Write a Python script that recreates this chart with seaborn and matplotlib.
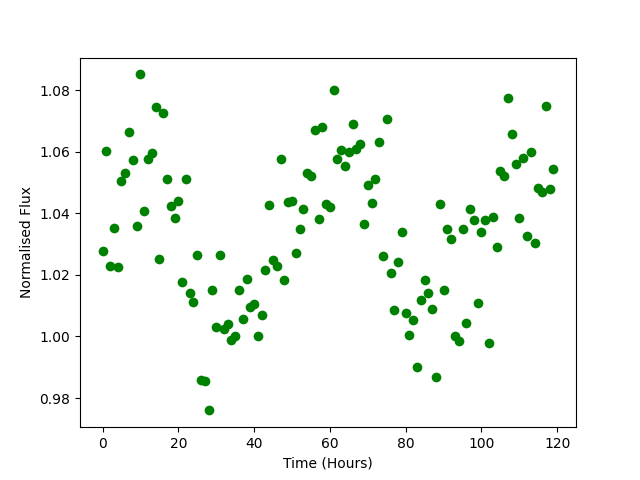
import matplotlib
matplotlib.use("Agg")
import matplotlib.pyplot as plt
import numpy as np
import seaborn as sns

hours = np.arange(120)

flux = [
    1.0277, 1.0602, 1.0230, 1.0353, 1.0226, 1.0505, 1.0530, 1.0664, 1.0573, 1.0360,
    1.0851, 1.0408, 1.0577, 1.0595, 1.0746, 1.0250, 1.0725, 1.0510, 1.0425, 1.0386,
    1.0440, 1.0177, 1.0510, 1.0140, 1.0113, 1.0265, 0.9860, 0.9855, 0.9760, 1.0150,
    1.0030, 1.0265, 1.0025, 1.0040, 0.9990, 1.0003, 1.0150, 1.0058, 1.0187, 1.0097,
    1.0105, 1.0000, 1.0070, 1.0217, 1.0428, 1.0248, 1.0230, 1.0577, 1.0183, 1.0437,
    1.0440, 1.0270, 1.0350, 1.0415, 1.0530, 1.0520, 1.0670, 1.0380, 1.0680, 1.0430,
    1.0420, 1.0800, 1.0577, 1.0607, 1.0553, 1.0600, 1.0690, 1.0608, 1.0625, 1.0365,
    1.0493, 1.0433, 1.0512, 1.0630, 1.0262, 1.0705, 1.0205, 1.0087, 1.0243, 1.0340,
    1.0077, 1.0005, 1.0052, 0.9900, 1.0119, 1.0183, 1.0140, 1.0090, 0.9870, 1.0430,
    1.0150, 1.0350, 1.0317, 1.0003, 0.9986, 1.0350, 1.0043, 1.0413, 1.0378, 1.0110,
    1.0340, 1.0378, 0.9980, 1.0387, 1.0290, 1.0538, 1.0521, 1.0773, 1.0658, 1.0560,
    1.0385, 1.0580, 1.0326, 1.0599, 1.0304, 1.0482, 1.0470, 1.0750, 1.0478, 1.0544,
]

fig, ax = plt.subplots(figsize=(6.4, 4.8), dpi=100)

sns.scatterplot(
    x=hours,
    y=flux,
    color="green",
    s=49,
    linewidth=0,
    ax=ax
)

ax.set_xlabel("Time (Hours)")
ax.set_ylabel("Normalised Flux")

plt.savefig("out.png")
